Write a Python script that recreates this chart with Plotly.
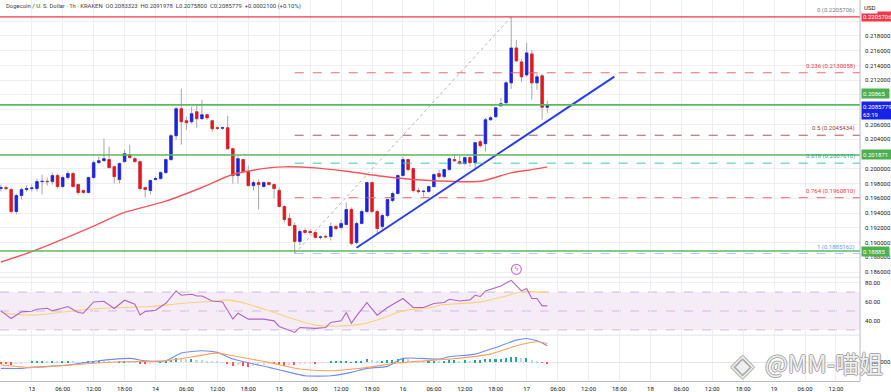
import plotly.graph_objects as go
import pandas as pd

# ---------------- data ----------------
opens = [0.19732,0.19745,0.19718,0.19421,0.19637,0.19718,0.19732,0.19732,0.19826,0.19830,
         0.19826,0.19908,0.19759,0.19881,0.19935,0.19786,0.19705,0.19678,0.19881,0.20083,
         0.20110,0.20124,0.20029,0.19854,0.20097,0.20191,0.20137,0.20097,0.19745,0.19705,
         0.19854,0.19867,0.19948,0.20124,0.20448,0.20813,0.20651,0.20637,0.20772,0.20678,
         0.20732,0.20651,0.20556,0.20550,0.20556,0.20272,0.19908,0.20124,0.19962,0.19772,
         0.19813,0.19759,0.19813,0.19786,0.19705,0.19489,0.19327,0.19232,0.19016,0.19164,
         0.19151,0.19137,0.19070,0.19083,0.19083,0.19218,0.19205,0.19245,0.19448,0.19002,
         0.19259,0.19421,0.19813,0.19421,0.19218,0.19367,0.19570,0.19664,0.19908,0.20124,
         0.20002,0.19705,0.19691,0.19691,0.19759,0.19935,0.19894,0.19989,0.20124,0.20097,
         0.20070,0.20151,0.20083,0.20367,0.20340,0.20664,0.20705,0.20853,0.20894,0.21164,
         0.21637,0.21448,0.21272,0.21556,0.21164,0.21259,0.2083323]
highs = [0.19786,0.19772,0.19745,0.19664,0.19745,0.19772,0.19786,0.19867,0.19921,0.19881,
         0.19948,0.19935,0.19908,0.19975,0.19962,0.19800,0.19718,0.19894,0.20110,0.20164,
         0.20408,0.20299,0.20043,0.20083,0.20259,0.20326,0.20164,0.20110,0.19759,0.19854,
         0.19894,0.19962,0.20137,0.20475,0.20840,0.21083,0.20705,0.20840,0.20867,0.20935,
         0.20745,0.20664,0.20570,0.20570,0.20718,0.20286,0.20178,0.20137,0.20043,0.19840,
         0.19854,0.19826,0.19826,0.19800,0.19745,0.19502,0.19394,0.19272,0.19178,0.19191,
         0.19178,0.19151,0.19097,0.19110,0.19272,0.19245,0.19313,0.19543,0.19475,0.19286,
         0.19448,0.19826,0.19826,0.19448,0.19394,0.19597,0.19691,0.19921,0.20164,0.20137,
         0.20016,0.19745,0.19718,0.19772,0.19935,0.19989,0.20002,0.20151,0.20191,0.20178,
         0.20164,0.20178,0.20367,0.20394,0.20691,0.20718,0.20840,0.20962,0.21191,0.22057,
         0.21745,0.21489,0.21705,0.21610,0.21286,0.21286,0.2091978]
lows = [0.19691,0.19705,0.19394,0.19380,0.19583,0.19691,0.19691,0.19691,0.19651,0.19772,
        0.19786,0.19732,0.19745,0.19854,0.19745,0.19651,0.19664,0.19664,0.19867,0.20070,
        0.20097,0.20002,0.19800,0.19800,0.20083,0.20137,0.20083,0.19705,0.19610,0.19651,
        0.19840,0.19854,0.19935,0.20110,0.20394,0.20326,0.20529,0.20610,0.20556,0.20664,
        0.20664,0.20502,0.20529,0.20529,0.20259,0.19800,0.19800,0.19935,0.19759,0.19705,
        0.19448,0.19745,0.19772,0.19597,0.19475,0.19272,0.19218,0.18852,0.18962,0.19110,
        0.19110,0.19056,0.19043,0.19056,0.19029,0.19164,0.19178,0.19232,0.18962,0.18975,
        0.19245,0.19394,0.19394,0.19110,0.19178,0.19340,0.19543,0.19651,0.19894,0.19962,
        0.19678,0.19664,0.19624,0.19678,0.19745,0.19867,0.19867,0.19975,0.20097,0.20056,
        0.20056,0.20029,0.19975,0.20286,0.20232,0.20651,0.20691,0.20840,0.20867,0.21083,
        0.21448,0.21178,0.21245,0.20935,0.21070,0.20664,0.2075800]
closes = [0.19745,0.19732,0.19421,0.19637,0.19718,0.19732,0.19740,0.19826,0.19830,0.19826,
          0.19908,0.19759,0.19881,0.19935,0.19759,0.19678,0.19678,0.19881,0.20083,0.20110,
          0.20137,0.20016,0.19894,0.20070,0.20205,0.20151,0.20097,0.19732,0.19718,0.19840,
          0.19867,0.19948,0.20124,0.20448,0.20813,0.20637,0.20624,0.20745,0.20678,0.20732,
          0.20691,0.20543,0.20550,0.20556,0.20272,0.19908,0.20137,0.19962,0.19772,0.19813,
          0.19786,0.19813,0.19786,0.19732,0.19489,0.19313,0.19232,0.19016,0.19151,0.19137,
          0.19137,0.19070,0.19075,0.19078,0.19218,0.19191,0.19259,0.19448,0.18989,0.19259,
          0.19421,0.19813,0.19421,0.19191,0.19367,0.19583,0.19664,0.19908,0.20124,0.19989,
          0.19705,0.19691,0.19695,0.19759,0.19921,0.19894,0.19989,0.20137,0.20110,0.20070,
          0.20151,0.20083,0.20354,0.20313,0.20664,0.20691,0.20826,0.20881,0.21164,0.21637,
          0.21462,0.21245,0.21570,0.21164,0.21245,0.20833,0.2085779]

start_time = "2025-03-12 18:00"

ma_idx = [0, 6, 18, 24, 32, 39, 45, 52, 55, 61, 67, 74, 80, 87, 93, 99, 103, 106]
ma_val = [0.18737, 0.18877, 0.19223, 0.19408, 0.19561, 0.19746, 0.19922, 0.20012, 0.20026,
          0.20012, 0.19966, 0.19899, 0.19854, 0.19831, 0.19831, 0.19945, 0.19989, 0.20026]

rsi_idx = [0, 2, 4, 6, 7, 9, 10, 13, 15, 16, 18, 20, 22, 24, 26, 27, 28, 30, 32, 34, 35, 37, 38, 39,
           41, 43, 45, 46, 48, 51, 53, 54, 57, 58, 61, 63, 64, 66, 67, 68, 69, 71, 73, 75, 78, 80,
           82, 84, 86, 87, 89, 91, 92, 93, 94, 96, 97, 99, 101, 102, 103, 104, 105, 106]
rsi_val = [50.1, 42.1, 49.1, 49.8, 51.9, 52.9, 50.1, 54.7, 48.4, 47.7, 59.6, 60.3, 52.6, 61.4, 57.2,
           45.9, 49.5, 50.8, 58.2, 71.2, 66.6, 67.7, 65.9, 65.9, 60.6, 59.6, 41.4, 47.7, 41.4, 41.4,
           39.6, 33.7, 27.4, 32.6, 31.6, 32.6, 37.9, 39.6, 48.4, 37.2, 44.8, 58.9, 45.6, 53.7, 63.2,
           53.7, 53.7, 57.9, 58.9, 62.4, 60.6, 61.7, 66.6, 65.3, 71.2, 74.7, 76.4, 82.4, 71.2, 73.7,
           63.2, 63.2, 55.4, 55.4]
rsima_idx = [0, 6, 13, 19, 29, 35, 42, 44, 48, 55, 61, 66, 70, 74, 78, 84, 85, 87, 93, 98, 101, 106]
rsima_val = [48.4, 45.6, 49.5, 52.6, 54.7, 57.9, 60.6, 61.7, 57.2, 44.8, 35.1, 34.3, 36.1, 42.4,
             50.1, 54.3, 56.1, 57.2, 59.6, 65.9, 70.1, 69.5]

macd_idx = [0, 4, 6, 13, 19, 25, 28, 32, 35, 39, 42, 45, 52, 56, 59, 64, 68, 71, 75, 78, 85, 87,
            92, 96, 100, 102, 104, 106]
macd_val = [-0.0006, -0.0006, -0.0005, -0.00027, 0.00016, 0.0004, 0.00016, 0.00016, 0.00093,
            0.00116, 0.001, 0.00033, -0.0005, -0.001, -0.00134, -0.00134, -0.001, -0.0006,
            -0.0004, 0.0004, 0.00033, 0.00056, 0.00083, 0.0015, 0.00223, 0.0024, 0.00216, 0.00166]
sig_idx = [0, 6, 16, 23, 32, 39, 42, 45, 52, 58, 64, 71, 77, 85, 87, 95, 100, 104, 106]
sig_val = [-0.00027, -0.0005, -0.00017, 0.00006, 0.00016, 0.00073, 0.00093, 0.00066, 0.0,
           -0.00067, -0.00084, -0.0005, -0.00007, 0.00026, 0.00033, 0.00083, 0.00166, 0.00206, 0.0019]
hist_val = [-0.00015,-0.0002,-0.0003,-0.0002,-0.0001,-0.00005,0.00003,0.00005,0.00005,0.00003,
            0.00008,0.00005,0.00008,0.0001,0.00005,0.00002,0.00002,0.00008,0.00012,0.00012,
            0.0001,0.00005,0.00002,0.00005,0.00008,0.00005,0.00002,-0.0001,-0.00015,-0.0001,
            -0.00005,0.00005,0.0001,0.00025,0.0004,0.00035,0.0003,0.0003,0.00025,0.0002,
            0.00015,0.0001,0.00005,0.00002,-0.0002,-0.0004,-0.0003,-0.0004,-0.0005,-0.0004,
            -0.0003,-0.00025,-0.0002,-0.0002,-0.0003,-0.00035,-0.0003,-0.0003,-0.0002,-0.00015,
            -0.0001,-0.0001,-0.00005,-0.00003,0.00005,0.00008,0.0001,0.00015,-0.00005,0.0001,
            0.00015,0.0003,0.0002,0.0001,0.00012,0.0002,0.0002,0.0003,0.0004,0.0003,
            0.00015,0.0001,0.00008,0.0001,0.00015,0.00012,0.00015,0.0002,0.0002,0.00015,
            0.00018,0.00015,0.0002,0.0002,0.0003,0.0003,0.0003,0.0003,0.0004,0.0005,
            0.0005,0.0004,0.0004,0.0002,0.00015,-0.00005,-0.0002]

fib_levels = ["0", "0.236", "0.5", "0.618", "0.764", "1"]
fib_prices = [0.2205706, 0.2130058, 0.2045434, 0.2007610, 0.1960810, 0.1885162]
fib_colors = ["#787B86", "#F23645", "#9B3B3B", "#22AB94", "#F23645", "#5B9CF6"]
fib_line_colors = ["#F23645", "#F0676F", "#A85A5A", "#3FC7A8", "#F0676F", "#A9CDF5"]
fib_start_idx = 57
fib_end_idx = 99

green_levels = [0.20865, 0.201871, 0.18885]
green_labels = ["0.20865", "0.201871", "0.18885"]

trend_idx = [69, 119]
trend_price = [0.18930, 0.21248]

price_ticks = [0.186, 0.188, 0.190, 0.192, 0.194, 0.196, 0.198, 0.200, 0.202, 0.204,
               0.206, 0.208, 0.210, 0.212, 0.214, 0.216, 0.218, 0.220]
# tick labels hidden behind the coloured price labels are left blank
price_tick_labels = ["0.186000", "0.188000", "0.190000", "0.192000", "0.194000", "0.196000",
                     "0.198000", "0.200000", "", "0.204000", "0.206000", "", "", "0.212000",
                     "0.214000", "0.216000", "0.218000", ""]
rsi_ticks = [40, 60, 80]
time_tick_labels = ["18:00", "13", "06:00", "12:00", "18:00", "14", "06:00", "12:00", "18:00",
                    "15", "06:00", "12:00", "18:00", "16", "06:00", "12:00", "18:00",
                    "17", "06:00", "12:00", "18:00", "18", "06:00", "12:00", "18:00",
                    "19", "06:00", "12:00"]

header = ("Dogecoin / U. S. Dollar · 1h · KRAKEN  O0.2083323  H0.2091978  "
          "L0.2075800  C0.2085779  +0.0002100 (+0.10%)")

# ---------------- build ----------------
W, H = 891, 392
XR = 862 / W
times = pd.date_range(start_time, periods=len(opens), freq="h")
t0 = times[0]
def t_of(i):
    return t0 + pd.Timedelta(hours=i)
x_start = t0 - pd.Timedelta(minutes=10)
x_end = x_start + pd.Timedelta(hours=862 / 5.1667)
tick_times = [t0 + pd.Timedelta(hours=6 * k) for k in range(len(time_tick_labels))]

UP, DN = "#1A22E6", "#E8161C"
GRID = "#EEEEF0"

fig = go.Figure()

# wicks (grey)
fig.add_trace(go.Candlestick(
    x=times, open=opens, high=highs, low=lows, close=closes,
    increasing=dict(line=dict(color="#A6A6A6", width=1), fillcolor="#A6A6A6"),
    decreasing=dict(line=dict(color="#A6A6A6", width=1), fillcolor="#A6A6A6"),
    whiskerwidth=0, hoverinfo="skip", showlegend=False, xaxis="x", yaxis="y"))
# bodies
body_hi = [max(o, c) for o, c in zip(opens, closes)]
body_lo = [min(o, c) for o, c in zip(opens, closes)]
fig.add_trace(go.Candlestick(
    x=times, open=opens, high=body_hi, low=body_lo, close=closes,
    increasing=dict(line=dict(color=UP, width=0.6), fillcolor=UP),
    decreasing=dict(line=dict(color=DN, width=0.6), fillcolor=DN),
    whiskerwidth=0, hoverinfo="skip", showlegend=False, xaxis="x", yaxis="y"))

# moving average
fig.add_trace(go.Scatter(x=[t_of(i) for i in ma_idx], y=ma_val, mode="lines",
                         line=dict(color="#F0575C", width=1.4, shape="spline", smoothing=0.8),
                         hoverinfo="skip", showlegend=False, xaxis="x", yaxis="y"))

# fib diagonal
fig.add_trace(go.Scatter(x=[t_of(fib_start_idx), t_of(fib_end_idx)],
                         y=[fib_prices[-1], fib_prices[0]], mode="lines",
                         line=dict(color="#B4B4B4", width=1, dash="dot"),
                         hoverinfo="skip", showlegend=False, xaxis="x", yaxis="y"))
# trend line
fig.add_trace(go.Scatter(x=[t_of(i) for i in trend_idx], y=trend_price, mode="lines",
                         line=dict(color="#2A3FE6", width=2),
                         hoverinfo="skip", showlegend=False, xaxis="x", yaxis="y"))
# event icon
fig.add_trace(go.Scatter(x=[t_of(100)], y=[0.18637], mode="markers+text", text=["ϟ"],
                         textfont=dict(size=7, color="#C27AD6"),
                         marker=dict(symbol="circle-open", size=10, color="#C27AD6", line=dict(width=1.2)),
                         hoverinfo="skip", showlegend=False, xaxis="x", yaxis="y"))

# RSI
fig.add_trace(go.Scatter(x=[t_of(i) for i in rsima_idx], y=rsima_val, mode="lines",
                         line=dict(color="#F8D27A", width=1.1, shape="spline", smoothing=1),
                         hoverinfo="skip", showlegend=False, xaxis="x", yaxis="y2"))
fig.add_trace(go.Scatter(x=[t_of(i) for i in rsi_idx], y=rsi_val, mode="lines",
                         line=dict(color="#B264C6", width=1.1),
                         hoverinfo="skip", showlegend=False, xaxis="x", yaxis="y2"))

# MACD
hist_colors = []
for i, v in enumerate(hist_val):
    prev = hist_val[i - 1] if i > 0 else v
    if v >= 0:
        hist_colors.append("#26A69A" if v >= prev else "#B2DFDB")
    else:
        hist_colors.append("#FF5252" if v <= prev else "#FFCDD2")
fig.add_trace(go.Bar(x=times, y=hist_val, marker=dict(color=hist_colors, line=dict(width=0)),
                     width=1.2 * 3600 * 1000 * 0.25, hoverinfo="skip", showlegend=False,
                     xaxis="x", yaxis="y3"))
fig.add_trace(go.Scatter(x=[t_of(i) for i in macd_idx], y=macd_val, mode="lines",
                         line=dict(color="#6E8EF2", width=1.1, shape="spline", smoothing=0.6),
                         hoverinfo="skip", showlegend=False, xaxis="x", yaxis="y3"))
fig.add_trace(go.Scatter(x=[t_of(i) for i in sig_idx], y=sig_val, mode="lines",
                         line=dict(color="#FF9F5E", width=1.1, shape="spline", smoothing=0.8),
                         hoverinfo="skip", showlegend=False, xaxis="x", yaxis="y3"))

shapes = []
# RSI band
shapes.append(dict(type="rect", xref="paper", x0=0, x1=XR, yref="y2", y0=30, y1=70,
                   fillcolor="rgba(156,39,176,0.09)", line=dict(width=0), layer="below"))
for lv in (30, 50, 70):
    shapes.append(dict(type="line", xref="paper", x0=0, x1=XR, yref="y2", y0=lv, y1=lv,
                       line=dict(color="#CDBBDD", width=1, dash="dash"), layer="below"))
# green support/resistance lines
for g in green_levels:
    shapes.append(dict(type="line", xref="paper", x0=0, x1=XR, yref="y", y0=g, y1=g,
                       line=dict(color="#5CB85F", width=1.6)))
# fib lines
for k, p in enumerate(fib_prices):
    if k == 0:
        shapes.append(dict(type="line", xref="paper", x0=0, x1=XR, yref="y", y0=p, y1=p,
                           line=dict(color=fib_line_colors[k], width=1.2)))
    else:
        shapes.append(dict(type="line", xref="x", x0=t_of(fib_start_idx), x1=x_end, yref="y",
                           y0=p, y1=p, line=dict(color=fib_line_colors[k], width=1, dash="dash")))
# panel separators
for yy in (114 / H, 56 / H):
    shapes.append(dict(type="line", xref="paper", x0=0, x1=XR, yref="paper", y0=yy, y1=yy,
                       line=dict(color="#E0E3EB", width=1)))
shapes.append(dict(type="line", xref="paper", x0=XR, x1=XR, yref="paper", y0=10 / H, y1=1,
                   line=dict(color="#B8BBC4", width=1)))

annotations = []
annotations.append(dict(xref="paper", yref="paper", x=0.004, y=1 - 7 / H, xanchor="left",
                        yanchor="middle", text=header, showarrow=False,
                        font=dict(size=5.9, color="#3A3E4A", family="Roboto")))
for k, p in enumerate(fib_prices):
    annotations.append(dict(xref="paper", yref="y", x=859 / W, y=p, xanchor="right",
                            yanchor="bottom", yshift=1,
                            text=f"{fib_levels[k]} ({p:.7f})", showarrow=False,
                            font=dict(size=6, color=fib_colors[k], family="Roboto")))
# axis price labels
annotations.append(dict(xref="paper", yref="y", x=XR + 1 / W, y=fib_prices[0], xanchor="left",
                        yanchor="middle", text="0.2205706", showarrow=False, bgcolor="#F23645",
                        font=dict(size=6, color="white", family="Roboto")))
annotations.append(dict(xref="paper", yref="paper", x=XR + 1 / W, y=1 - 1 / H, xanchor="left",
                        yanchor="top", text="USD", showarrow=False, bgcolor="white",
                        borderpad=2, font=dict(size=6, color="#131722", family="Roboto")))
green_label_y = [0.2102, green_levels[1], green_levels[2]]
for g, lab in zip(green_label_y, green_labels):
    annotations.append(dict(xref="paper", yref="y", x=XR + 1 / W, y=g, xanchor="left",
                            yanchor="middle", text=lab + "  ", showarrow=False, bgcolor="#4CAF50",
                            font=dict(size=6, color="white", family="Roboto")))
annotations.append(dict(xref="paper", yref="y", x=XR + 1 / W, y=closes[-1], xanchor="left",
                        yanchor="top", yshift=4, text="0.2085779<br>63:19", showarrow=False,
                        bgcolor="#1A22E6", align="left",
                        font=dict(size=6, color="white", family="Roboto")))
# watermark
wm_font = dict(size=24, color="rgba(255,255,255,0.85)", family="Noto Sans CJK SC",
               shadow="-1px 0 #9A9A9A, 1px 0 #9A9A9A, 0 -1px #9A9A9A, 0 1px #9A9A9A")
annotations.append(dict(xref="paper", yref="paper", x=826 / W, y=(H - 363) / H, xanchor="center",
                        yanchor="middle", text="@MM-喵姐", showarrow=False, font=wm_font))
annotations.append(dict(xref="paper", yref="paper", x=744 / W, y=(H - 364) / H, xanchor="center",
                        yanchor="middle", text="◈", showarrow=False,
                        font=dict(size=30, color="rgba(255,255,255,0.85)",
                                  shadow="-1px 0 #9A9A9A, 1px 0 #9A9A9A, 0 -1px #9A9A9A, 0 1px #9A9A9A")))

axis_font = dict(size=6, color="#131722", family="Roboto")
fig.update_layout(
    width=W, height=H, margin=dict(l=0, r=0, t=0, b=0),
    paper_bgcolor="white", plot_bgcolor="white",
    showlegend=False, bargap=0, hovermode=False,
    xaxis=dict(type="date", domain=[0, XR], range=[x_start, x_end], anchor="y3",
               rangeslider=dict(visible=False), tickvals=tick_times, ticktext=time_tick_labels,
               showgrid=True, gridcolor=GRID, gridwidth=1, ticks="", tickfont=axis_font,
               showline=True, linecolor="#B8BBC4", linewidth=1, zeroline=False,
               ticklabelstandoff=2),
    yaxis=dict(domain=[114 / H, 1], range=[0.185297, 0.222865], side="right", anchor="x",
               tickvals=price_ticks, ticktext=price_tick_labels,
               showgrid=True, gridcolor=GRID, ticks="", tickfont=axis_font, zeroline=False,
               ticklabelstandoff=4),
    yaxis2=dict(domain=[56 / H, 114 / H], range=[24.5, 85.6], side="right", anchor="x",
                tickvals=rsi_ticks, ticktext=[f"{v:.2f}" for v in rsi_ticks],
                showgrid=True, gridcolor=GRID, ticks="", tickfont=axis_font, zeroline=False,
                ticklabelstandoff=4),
    yaxis3=dict(domain=[10 / H, 56 / H], range=[-0.00187, 0.00273], side="right", anchor="x",
                tickvals=[0], ticktext=["0.000000"], showgrid=True, gridcolor="#E4E4E4",
                ticks="", tickfont=axis_font, zeroline=False, ticklabelstandoff=4),
    shapes=shapes, annotations=annotations,
)

fig.write_html("out.html", config={"displayModeBar": False},
               post_script="document.body.style.margin='0';")
